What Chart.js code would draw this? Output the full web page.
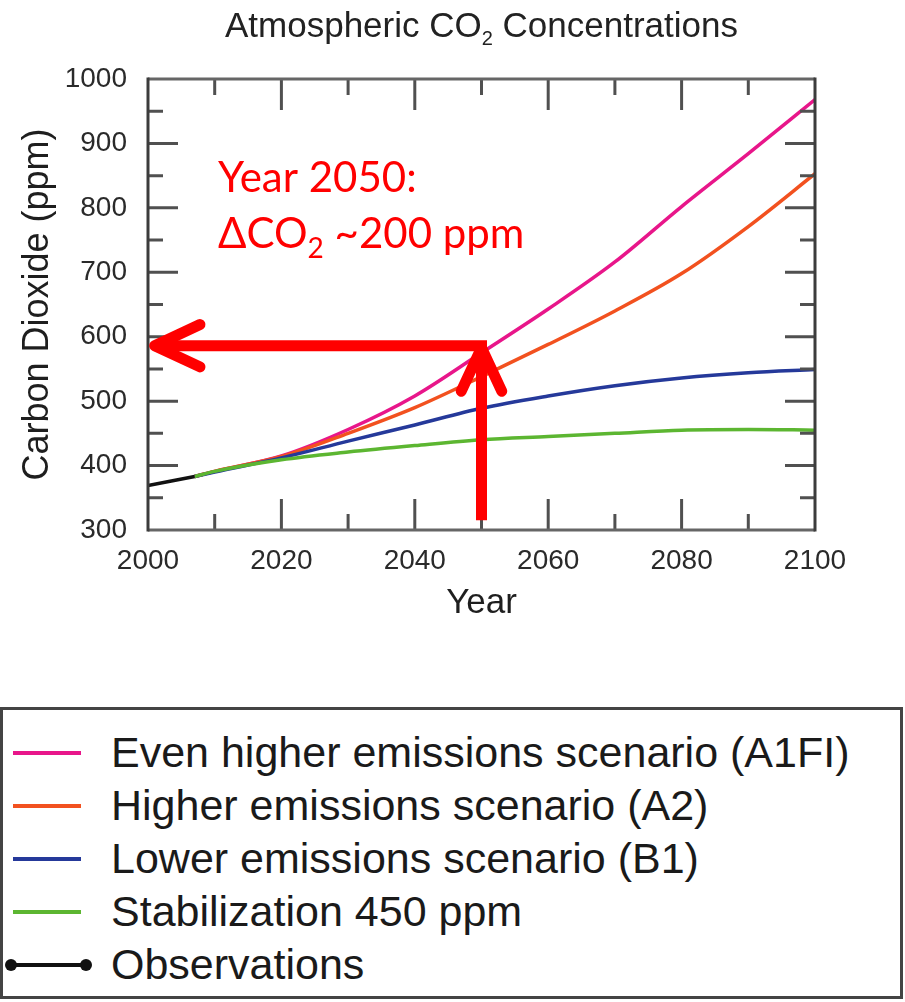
<!DOCTYPE html>
<html>
<head>
<meta charset="utf-8">
<title>Atmospheric CO2 Concentrations</title>
<script src="https://cdn.jsdelivr.net/npm/chart.js@4.4.1/dist/chart.umd.min.js"></script>
<style>
  html, body { margin: 0; padding: 0; background: #fff; width: 905px; height: 1002px; overflow: hidden; }
  #wrap { position: absolute; left: 0; top: 0; width: 905px; height: 700px; }
  #legend {
    position: absolute; left: 0; top: 707px; width: 897px; height: 286px;
    border: 3px solid #444; box-sizing: content-box;
    font-family: "Liberation Sans", Arial, sans-serif; font-size: 43px; color: #1a1a1a;
  }
  #legend .row { position: relative; height: 53px; line-height: 53px; white-space: nowrap; }
  #legend .row:first-child { margin-top: 16px; }
  #legend .key { position: absolute; left: 10px; top: 25px; width: 68px; height: 4px; }
  #legend .key.dots { left: 6px; width: 79px; }
  #legend .key.dots::before, #legend .key.dots::after {
    content: ""; position: absolute; top: -4px; width: 12px; height: 12px; border-radius: 50%; background: inherit;
  }
  #legend .key.dots::before { left: -4px; }
  #legend .key.dots::after { right: -4px; }
  #legend .label { position: absolute; left: 108px; top: 0; }
</style>
</head>
<body>
<div id="wrap"><canvas id="chart" width="905" height="700"></canvas></div>
<div id="legend"></div>
<script>
// Projection years and concentrations (ppm) for each emissions scenario
const scenarioYears = [2007, 2010, 2020, 2030, 2040, 2050, 2060, 2070, 2080, 2090, 2100];
const a1fiPpm  = [383, 391, 415, 456, 508, 575, 643, 716, 802, 884, 968];
const a2Ppm    = [383, 391, 414, 450, 490, 538, 588, 640, 698, 771, 853];
const b1Ppm    = [383, 390, 412, 438, 463, 489, 508, 524, 536, 544, 549];
const stabPpm  = [383, 391, 409, 421, 431, 440, 445, 450, 455, 456, 455];

// Measured concentrations
const obsYears = [2000, 2007];
const obsPpm   = [369, 383];

// Series names
const seriesNames = [
  'Even higher emissions scenario (A1FI)',
  'Higher emissions scenario (A2)',
  'Lower emissions scenario (B1)',
  'Stabilization 450 ppm',
  'Observations'
];

// Axis ranges and tick steps
const yearRange = [2000, 2100];
const ppmRange = [300, 1000];
const yearLabelStep = 20, yearMinorStep = 10;
const ppmLabelStep = 100, ppmMinorStep = 50;

// Call-out: the 2050 reading and the level it points to
const calloutYear = 2050;
const calloutPpm = 586;
const calloutBasePpm = 315;
const calloutTipYear = 2001;
const noteLines = ['Year 2050:', ['ΔCO', '2', ' ~200 ppm']];
const noteAnchor = { year: 2010.5, ppm: 825 };

const toPoints = (xs, ys) => xs.map((x, i) => ({ x, y: ys[i] }));

const FONT = '"Liberation Sans", Arial, Helvetica, sans-serif';
const NOTE_FONT = 'Lato, "Open Sans", sans-serif';

const colours = ['#e8168a', '#f2511f', '#25399a', '#5cb631', '#111111'];

const datasets = [
  { label: seriesNames[0], data: toPoints(scenarioYears, a1fiPpm), borderColor: colours[0], order: 4 },
  { label: seriesNames[1], data: toPoints(scenarioYears, a2Ppm), borderColor: colours[1], order: 3 },
  { label: seriesNames[2], data: toPoints(scenarioYears, b1Ppm), borderColor: colours[2], order: 2 },
  { label: seriesNames[3], data: toPoints(scenarioYears, stabPpm), borderColor: colours[3], order: 1 },
  { label: seriesNames[4], data: toPoints(obsYears, obsPpm), borderColor: colours[4], order: 0, legendDots: true }
].map(ds => Object.assign({
  borderWidth: 3.5, pointRadius: 0, tension: 0.4, cubicInterpolationMode: 'monotone', fill: false
}, ds));

// Chart title with a subscript 2
const titlePlugin = {
  id: 'co2Title',
  afterDraw(chart) {
    const { ctx, chartArea } = chart;
    const parts = [['Atmospheric CO', 35, 0], ['2', 20, 8], [' Concentrations', 35, 0]];
    ctx.save();
    ctx.fillStyle = '#222';
    ctx.textBaseline = 'alphabetic';
    let total = 0;
    parts.forEach(p => { ctx.font = p[1] + 'px ' + FONT; total += ctx.measureText(p[0]).width; });
    let x = (chartArea.left + chartArea.right) / 2 - total / 2;
    parts.forEach(p => {
      ctx.font = p[1] + 'px ' + FONT;
      ctx.fillText(p[0], x, 37 + p[2]);
      x += ctx.measureText(p[0]).width;
    });
    ctx.restore();
  }
};

// Box frame with inward tick marks on all four sides
const framePlugin = {
  id: 'frame',
  afterDatasetsDraw(chart) {
    const { ctx, chartArea: a, scales: { x, y } } = chart;
    ctx.save();
    ctx.strokeStyle = '#505050';
    ctx.lineWidth = 3;
    ctx.lineCap = 'butt';
    ctx.beginPath();
    for (let v = yearRange[0] + yearMinorStep; v < yearRange[1]; v += yearMinorStep) {
      const px = x.getPixelForValue(v);
      const len = v % yearLabelStep === 0 ? 31 : 16;
      ctx.moveTo(px, a.bottom); ctx.lineTo(px, a.bottom - len);
      ctx.moveTo(px, a.top); ctx.lineTo(px, a.top + len);
    }
    for (let v = ppmRange[0] + ppmMinorStep; v < ppmRange[1]; v += ppmMinorStep) {
      const py = y.getPixelForValue(v);
      const len = v % ppmLabelStep === 0 ? 30 : 15;
      ctx.moveTo(a.left, py); ctx.lineTo(a.left + len, py);
      ctx.moveTo(a.right, py); ctx.lineTo(a.right - len, py);
    }
    ctx.stroke();
    // top and bottom edges are a lighter grey than the sides
    ctx.strokeStyle = '#666';
    ctx.beginPath();
    ctx.moveTo(a.left, a.top); ctx.lineTo(a.right, a.top);
    ctx.moveTo(a.left, a.bottom); ctx.lineTo(a.right, a.bottom);
    ctx.stroke();
    ctx.strokeStyle = '#3c3c3c';
    ctx.beginPath();
    ctx.moveTo(a.left, a.top - 1.5); ctx.lineTo(a.left, a.bottom + 1.5);
    ctx.moveTo(a.right, a.top - 1.5); ctx.lineTo(a.right, a.bottom + 1.5);
    ctx.stroke();
    ctx.restore();
  }
};

function drawArrow(ctx, x0, y0, x1, y1, head) {
  ctx.lineCap = 'butt';
  ctx.beginPath(); ctx.moveTo(x0, y0); ctx.lineTo(x1, y1); ctx.stroke();
  const ang = Math.atan2(y1 - y0, x1 - x0);
  const spread = 25 * Math.PI / 180;
  ctx.lineCap = 'round';
  ctx.lineJoin = 'round';
  ctx.beginPath();
  ctx.moveTo(x1 - head * Math.cos(ang - spread), y1 - head * Math.sin(ang - spread));
  ctx.lineTo(x1, y1);
  ctx.lineTo(x1 - head * Math.cos(ang + spread), y1 - head * Math.sin(ang + spread));
  ctx.stroke();
}

// Red call-out arrows and note
const calloutPlugin = {
  id: 'callout',
  afterDraw(chart) {
    const { ctx, scales: { x, y } } = chart;
    const cx = x.getPixelForValue(calloutYear);
    const cy = y.getPixelForValue(calloutPpm);
    ctx.save();
    ctx.strokeStyle = '#ff0000';
    ctx.lineWidth = 11;
    drawArrow(ctx, cx, y.getPixelForValue(calloutBasePpm), cx, cy + 2, 48);
    drawArrow(ctx, cx + 5.5, cy, x.getPixelForValue(calloutTipYear), cy, 50);

    ctx.fillStyle = '#ff0000';
    ctx.textBaseline = 'alphabetic';
    const nx = x.getPixelForValue(noteAnchor.year);
    const ny = y.getPixelForValue(noteAnchor.ppm);
    ctx.font = '42px ' + NOTE_FONT;
    ctx.fillText(noteLines[0], nx, ny);
    let px = nx;
    const parts = noteLines[1];
    [[parts[0], 42, 0], [parts[1], 28, 10], [parts[2], 42, 0]].forEach(p => {
      ctx.font = p[1] + 'px ' + NOTE_FONT;
      ctx.fillText(p[0], px, ny + 56 + p[2]);
      px += ctx.measureText(p[0]).width;
    });
    ctx.restore();
  }
};

// Legend listing every series, built from the chart's datasets
const legendPlugin = {
  id: 'htmlLegend',
  afterUpdate(chart) {
    const box = document.getElementById('legend');
    box.innerHTML = '';
    chart.data.datasets.forEach(ds => {
      const row = document.createElement('div');
      row.className = 'row';
      const key = document.createElement('span');
      key.className = 'key' + (ds.legendDots ? ' dots' : '');
      key.style.background = ds.borderColor;
      const label = document.createElement('span');
      label.className = 'label';
      label.textContent = ds.label;
      row.appendChild(key);
      row.appendChild(label);
      box.appendChild(row);
    });
  }
};

new Chart(document.getElementById('chart'), {
  type: 'line',
  data: { datasets },
  plugins: [titlePlugin, framePlugin, calloutPlugin, legendPlugin],
  options: {
    responsive: false,
    animation: false,
    devicePixelRatio: 1,
    layout: { padding: { left: 0, top: 79, right: 90, bottom: 50 } },
    plugins: { legend: { display: false }, tooltip: { enabled: false }, title: { display: false } },
    scales: {
      x: {
        type: 'linear', min: yearRange[0], max: yearRange[1],
        grid: { display: false, drawTicks: false },
        border: { display: false },
        ticks: { stepSize: yearLabelStep, padding: 14, color: '#2a2a2a', maxRotation: 0,
                 font: { family: FONT, size: 28 }, callback: v => String(v) },
        title: { display: true, text: 'Year', color: '#1e1e1e',
                 font: { family: FONT, size: 35 }, padding: { top: 0, bottom: 26 } },
        afterFit(s) { s.height = 120; }
      },
      y: {
        type: 'linear', min: ppmRange[0], max: ppmRange[1],
        grid: { display: false, drawTicks: false },
        border: { display: false },
        ticks: { stepSize: ppmLabelStep, padding: 21, color: '#2a2a2a',
                 font: { family: FONT, size: 28 }, callback: v => String(v) },
        title: { display: true, text: 'Carbon Dioxide (ppm)', color: '#1e1e1e',
                 font: { family: FONT, size: 36 }, padding: { top: 16, bottom: 0 } },
        afterFit(s) { s.width = 148; }
      }
    }
  }
});
</script>
</body>
</html>
